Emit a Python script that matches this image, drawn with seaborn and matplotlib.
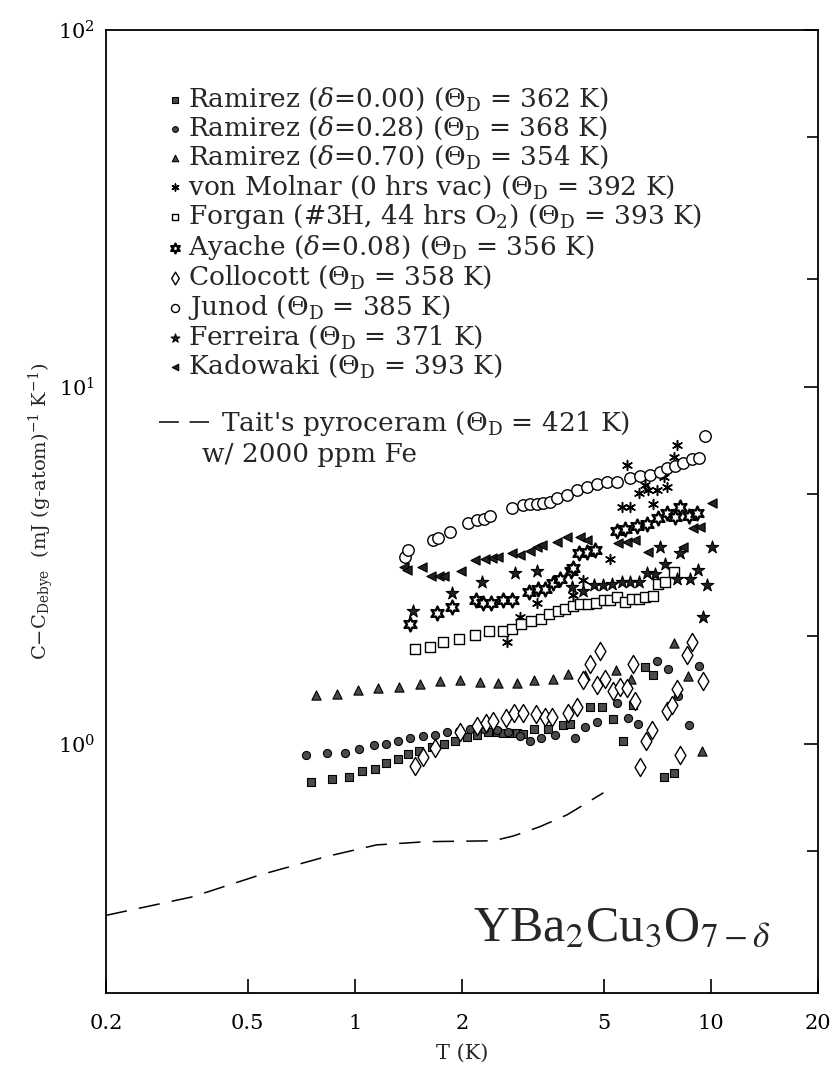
import matplotlib
matplotlib.use("Agg")
import matplotlib.pyplot as plt
from matplotlib.lines import Line2D
from matplotlib.ticker import FixedLocator, NullFormatter, NullLocator
import seaborn as sns
import pandas as pd

sns.set_theme(style="white")
plt.rcParams['font.family'] = ['DejaVu Serif']
plt.rcParams['mathtext.fontset'] = 'dejavuserif'

# ---------------- data ----------------
ramirez000_T = [0.753,0.863,0.962,1.05,1.14,1.22,1.32,1.41,1.51,1.65,1.78,1.91,2.06,2.21,2.37,2.50,2.61,2.73,2.85,2.97,3.18,3.49,3.84,4.02,4.58,4.94,5.32,5.68,6.06,6.53,6.89,7.36,7.85]
ramirez000_C = [0.779,0.798,0.808,0.838,0.849,0.883,0.907,0.937,0.955,0.977,1.00,1.02,1.045,1.06,1.075,1.077,1.073,1.073,1.069,1.064,1.097,1.10,1.127,1.135,1.27,1.27,1.17,1.017,1.28,1.64,1.56,0.805,0.826]

ramirez028_T = [0.728,0.834,0.938,1.03,1.13,1.22,1.32,1.43,1.55,1.68,1.82,1.96,2.11,2.30,2.50,2.70,2.90,3.10,3.33,3.65,4.14,4.43,4.78,5.44,5.83,6.25,7.04,7.59,8.10,8.65,9.23]
ramirez028_C = [0.929,0.939,0.943,0.968,0.989,1.00,1.015,1.04,1.05,1.06,1.08,1.087,1.10,1.10,1.09,1.08,1.05,1.02,1.04,1.06,1.04,1.11,1.15,1.30,1.18,1.135,1.70,1.62,1.36,1.13,1.65]

ramirez070_T = [0.778,0.889,1.02,1.16,1.33,1.52,1.73,1.97,2.24,2.53,2.86,3.19,3.59,3.98,4.43,5.42,5.97,7.85,8.62,9.43]
ramirez070_C = [1.37,1.38,1.41,1.43,1.44,1.47,1.50,1.51,1.49,1.48,1.48,1.51,1.52,1.57,1.56,1.61,1.52,1.91,1.55,0.955]

vonmolnar_T = [2.68,2.91,3.24,4.11,4.38,5.21,5.62,5.93,6.89,6.26,6.67,7.04,7.52,7.36,5.81,6.53,7.85,8.02]
vonmolnar_C = [1.93,2.26,2.47,2.61,2.87,3.29,4.61,4.59,4.69,5.03,5.14,5.14,5.23,5.60,6.04,5.31,6.37,6.87]

forgan_T = [1.48,1.63,1.77,1.96,2.18,2.38,2.60,2.76,2.93,3.12,3.33,3.52,3.73,3.89,4.09,4.29,4.53,4.76,5.02,5.21,5.44,5.74,6.00,6.26,6.53,6.89,7.12,7.44,7.85]
forgan_C = [1.84,1.86,1.93,1.97,2.01,2.07,2.07,2.10,2.17,2.20,2.24,2.31,2.36,2.38,2.43,2.46,2.46,2.47,2.52,2.53,2.57,2.50,2.55,2.54,2.58,2.59,2.80,2.84,3.03]

ayache_T = [1.43,1.70,1.87,2.19,2.29,2.41,2.61,2.76,3.09,3.26,3.42,3.61,3.77,4.05,4.11,4.25,4.48,4.73,5.44,5.74,6.19,6.61,7.12,7.52,7.93,8.19,8.65,9.12]
ayache_C = [2.16,2.33,2.42,2.53,2.48,2.47,2.53,2.53,2.66,2.71,2.72,2.81,2.90,3.05,3.10,3.41,3.45,3.49,3.93,3.99,4.08,4.13,4.28,4.42,4.31,4.61,4.33,4.42]

collocott_T = [1.48,1.55,1.68,1.97,2.20,2.34,2.45,2.65,2.80,2.97,3.23,3.42,3.57,3.98,4.20,4.38,4.56,4.78,4.88,5.04,5.32,5.56,5.80,6.03,6.12,6.32,6.58,6.82,7.52,7.77,8.02,8.19,8.55,8.87,9.48]
collocott_C = [0.865,0.916,0.97,1.08,1.12,1.14,1.16,1.18,1.22,1.22,1.21,1.19,1.19,1.22,1.27,1.51,1.67,1.46,1.82,1.52,1.40,1.44,1.43,1.67,1.32,0.861,1.02,1.09,1.23,1.28,1.42,0.93,1.77,1.92,1.50]

junod_T = [1.38,1.41,1.66,1.71,1.85,2.08,2.20,2.30,2.40,2.76,2.97,3.10,3.24,3.38,3.53,3.69,3.94,4.20,4.48,4.78,5.09,5.44,5.93,6.33,6.75,7.20,7.52,7.93,8.37,8.84,9.28,9.64]
junod_C = [3.34,3.49,3.71,3.76,3.91,4.14,4.23,4.25,4.33,4.57,4.66,4.69,4.69,4.73,4.76,4.87,4.98,5.14,5.25,5.34,5.42,5.42,5.54,5.62,5.66,5.78,5.91,6.00,6.11,6.27,6.30,7.28]

ferreira_T = [1.46,1.88,2.28,2.81,3.24,4.07,4.38,4.68,4.99,5.27,5.62,5.93,6.26,6.61,6.97,8.02,8.73,7.43,7.19,8.19,10.05,9.73,9.52,9.22]
ferreira_C = [2.35,2.65,2.83,3.00,3.05,2.75,2.68,2.78,2.78,2.80,2.83,2.84,2.84,3.00,2.99,2.90,2.89,3.19,3.56,3.42,3.56,2.78,2.27,3.07]

kadowaki_T = [1.37,1.40,1.54,1.64,1.72,1.78,1.99,2.18,2.32,2.43,2.53,2.76,2.91,3.11,3.24,3.35,3.69,3.94,4.29,4.48,5.50,5.80,6.12,6.67,8.37,8.93,9.33,10.06]
kadowaki_C = [3.13,3.07,3.12,2.95,2.95,2.95,3.05,3.27,3.29,3.31,3.33,3.43,3.38,3.47,3.56,3.60,3.68,3.80,3.80,3.72,3.64,3.68,3.72,3.45,3.56,4.01,4.04,4.71]

tait_T = [0.2,0.35,0.54,0.83,1.15,1.59,2.45,2.79,3.31,3.94,4.99]
tait_C = [0.33,0.372,0.428,0.482,0.52,0.531,0.534,0.551,0.585,0.631,0.728]

labels = [
    r"Ramirez ($\delta$=0.00) ($\Theta_{\rm D}$ = 362 K)",
    r"Ramirez ($\delta$=0.28) ($\Theta_{\rm D}$ = 368 K)",
    r"Ramirez ($\delta$=0.70) ($\Theta_{\rm D}$ = 354 K)",
    r"von Molnar (0 hrs vac) ($\Theta_{\rm D}$ = 392 K)",
    r"Forgan (#3H, 44 hrs O$_2$) ($\Theta_{\rm D}$ = 393 K)",
    r"Ayache ($\delta$=0.08) ($\Theta_{\rm D}$ = 356 K)",
    r"Collocott ($\Theta_{\rm D}$ = 358 K)",
    r"Junod ($\Theta_{\rm D}$ = 385 K)",
    r"Ferreira ($\Theta_{\rm D}$ = 371 K)",
    r"Kadowaki ($\Theta_{\rm D}$ = 393 K)",
]
tait_label = r"Tait's pyroceram ($\Theta_{\rm D}$ = 421 K)"
tait_note = "w/ 2000 ppm Fe"
compound = r"YBa$_2$Cu$_3$O$_{7-\delta}$"

series = [
    (ramirez000_T, ramirez000_C, dict(marker='s', s=30, facecolor='#4a4a4a', edgecolor='black', linewidth=0.8)),
    (ramirez028_T, ramirez028_C, dict(marker='o', s=34, facecolor='#4a4a4a', edgecolor='black', linewidth=0.8)),
    (ramirez070_T, ramirez070_C, dict(marker='^', s=44, facecolor='#4a4a4a', edgecolor='black', linewidth=0.8)),
    (vonmolnar_T, vonmolnar_C, dict(marker=(6, 2, 0), s=50, facecolor='black', edgecolor='black', linewidth=1.1)),
    (forgan_T, forgan_C, dict(marker='s', s=50, facecolor='white', edgecolor='black', linewidth=1.0)),
    (ayache_T, ayache_C, dict(marker=(6, 1, 0), s=100, facecolor='white', edgecolor='black', linewidth=1.7)),
    (collocott_T, collocott_C, dict(marker='d', s=85, facecolor='white', edgecolor='black', linewidth=1.0)),
    (junod_T, junod_C, dict(marker='o', s=68, facecolor='white', edgecolor='black', linewidth=1.0)),
    (ferreira_T, ferreira_C, dict(marker='*', s=90, facecolor='#222222', edgecolor='black', linewidth=0.8)),
    (kadowaki_T, kadowaki_C, dict(marker='<', s=44, facecolor='#222222', edgecolor='black', linewidth=0.8)),
]

# ---------------- figure ----------------
fig = plt.figure(figsize=(8.34, 10.66), dpi=100)
ax = fig.add_axes([0.127, 0.0685, 0.854, 0.9034])
ax.set_xscale('log')
ax.set_yscale('log')

for (T, C, kw), lab in zip(series, labels):
    df = pd.DataFrame({"T": T, "C": C})
    sns.scatterplot(data=df, x="T", y="C", ax=ax, label=lab, zorder=3, **kw)

dft = pd.DataFrame({"T": tait_T, "C": tait_C})
sns.lineplot(data=dft, x="T", y="C", ax=ax, color='black', linewidth=1.1,
             sort=False, estimator=None, zorder=2)
ax.lines[-1].set_dashes([14, 8])

ax.set_xlim(0.2, 20)
ax.set_ylim(0.2, 100)

ax.xaxis.set_major_locator(FixedLocator([0.2, 0.5, 1, 2, 5, 10, 20]))
ax.set_xticklabels(['0.2', '0.5', '1', '2', '5', '10', '20'])
ax.xaxis.set_minor_locator(NullLocator())
ax.yaxis.set_major_locator(FixedLocator([1, 10, 100]))
ax.set_yticklabels([r'$10^0$', r'$10^1$', r'$10^2$'])
ax.yaxis.set_minor_locator(FixedLocator([0.5, 2, 5, 20, 50]))
ax.yaxis.set_minor_formatter(NullFormatter())
ax.tick_params(axis='both', which='both', direction='in', colors='black', labelsize=15)
ax.tick_params(axis='x', which='major', pad=15)
ax.tick_params(axis='y', which='major', pad=8)
ax.tick_params(axis='both', which='major', length=10, width=1.2)
ax.tick_params(axis='y', which='minor', length=8, width=1.2)
ax.tick_params(axis='y', which='both', right=True)
ax.tick_params(axis='x', which='both', bottom=True, top=False)
for sp in ax.spines.values():
    sp.set_color('black')
    sp.set_linewidth(1.3)

ax.set_xlabel('T (K)', fontsize=15, labelpad=8)
ax.set_ylabel(r'C$-$C$_{\rm Debye}$  (mJ (g-atom)$^{-1}$ K$^{-1}$)', fontsize=14, labelpad=1)

# legends
handles, labs = ax.get_legend_handles_labels()
mh = [h for h, l in zip(handles, labs) if l in labels]
ml = [l for h, l in zip(handles, labs) if l in labels]
leg1 = ax.legend(mh, ml, loc='upper left', bbox_to_anchor=(0.088, 0.942), frameon=False,
                 fontsize=19, handlelength=0.5, handletextpad=0.25, labelspacing=0.065,
                 borderaxespad=0, borderpad=0, markerscale=0.7)
ax.add_artist(leg1)
th = Line2D([0], [0], color='black', linewidth=1.1, dashes=[13, 7])
ax.legend([th], [tait_label], loc='upper left', bbox_to_anchor=(0.075, 0.606), frameon=False,
          fontsize=19, handlelength=1.9, handletextpad=0.45, borderaxespad=0, borderpad=0)
ax.text(0.135, 0.559, tait_note, transform=ax.transAxes, ha='left', va='center',
        fontsize=19)

ax.text(0.516, 0.055, compound, transform=ax.transAxes,
        ha='left', va='baseline', fontsize=36, family='Liberation Serif',
        math_fontfamily='stix')

fig.savefig('out.png', dpi=100)
